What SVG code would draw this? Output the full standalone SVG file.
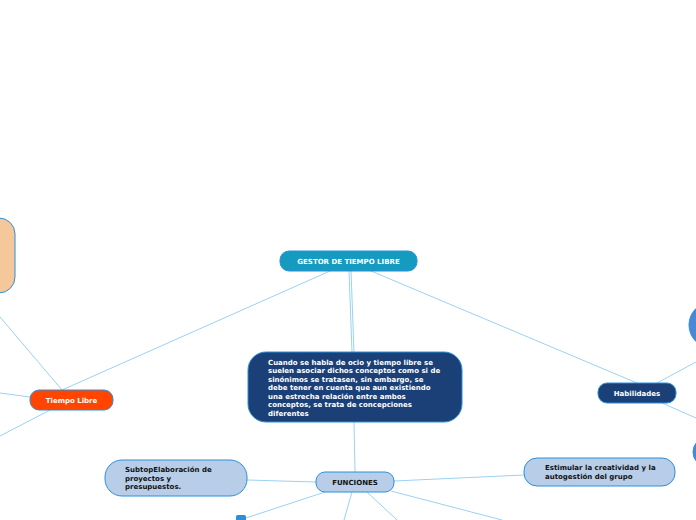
<svg xmlns="http://www.w3.org/2000/svg" width="696" height="520" viewBox="0 0 696 520">
<style>
.c{stroke:#9ad2f2;stroke-width:1;fill:none}
.n{stroke:#2b90d9;stroke-width:1}
.t{font-family:"DejaVu Sans",Verdana,sans-serif;font-weight:bold;font-size:7px}
.w{fill:#ffffff}
.d{fill:#111111}
</style>
<rect width="696" height="520" fill="#ffffff"/>
<g id="connectors">
<line class="c" x1="330" y1="271" x2="62" y2="390"/>
<line class="c" x1="349" y1="271" x2="352" y2="352"/>
<line class="c" x1="351" y1="271" x2="354" y2="352"/>
<line class="c" x1="354" y1="422" x2="355" y2="472"/>
<line class="c" x1="371" y1="271" x2="637" y2="383"/>
<line class="c" x1="657" y1="383" x2="696" y2="362"/>
<line class="c" x1="662" y1="403" x2="696" y2="418"/>
<line class="c" x1="62" y1="390" x2="0" y2="317"/>
<line class="c" x1="30" y1="397" x2="0" y2="393"/>
<line class="c" x1="50" y1="410" x2="0" y2="436"/>
<line class="c" x1="247" y1="480" x2="316" y2="482"/>
<line class="c" x1="394" y1="481" x2="524" y2="475"/>
<line class="c" x1="246" y1="518" x2="325" y2="492"/>
<line class="c" x1="352" y1="492" x2="344" y2="520"/>
<line class="c" x1="367" y1="492" x2="397" y2="520"/>
<line class="c" x1="391" y1="491" x2="502" y2="520"/>
</g>
<g id="peach"><rect class="n" x="-30" y="218" width="45" height="75" rx="16" fill="#f5c89c"/></g>
<g id="gestor"><rect class="n" x="280" y="251" width="137" height="20" rx="9" fill="#159ac0"/><text class="t w" x="348.5" y="263.5" text-anchor="middle" font-size="6.5">GESTOR DE TIEMPO LIBRE</text></g>
<g id="central"><rect class="n" x="248" y="352" width="214" height="70" rx="18" fill="#1b4077"/>
<text class="t w" font-size="6.8"><tspan x="268" y="364.5">Cuando se habla de ocio y tiempo libre se</tspan><tspan x="268" y="373">suelen asociar dichos conceptos como si de</tspan><tspan x="268" y="381.5">sinónimos se tratasen, sin embargo, se</tspan><tspan x="268" y="390">debe tener en cuenta que aun existiendo</tspan><tspan x="268" y="398.5">una estrecha relación entre ambos</tspan><tspan x="268" y="407">conceptos, se trata de concepciones</tspan><tspan x="268" y="415.5">diferentes</tspan></text></g>
<g id="tiempo"><rect class="n" x="30" y="390" width="83" height="20" rx="9" fill="#ff4500"/><text class="t w" x="71.5" y="402.5" text-anchor="middle">Tiempo Libre</text></g>
<g id="habilidades"><rect class="n" x="598" y="383" width="78" height="20" rx="9" fill="#1b4077"/><text class="t w" x="637" y="395.5" text-anchor="middle">Habilidades</text></g>
<g id="circle1"><circle class="n" cx="712" cy="325" r="23" fill="#4a88d4"/></g>
<g id="circle2"><circle class="n" cx="708" cy="452" r="15" fill="#4a88d4"/></g>
<g id="funciones"><rect class="n" x="316" y="472" width="78" height="20" rx="9" fill="#b8cde8"/><text class="t d" x="355" y="484.5" text-anchor="middle">FUNCIONES</text></g>
<g id="subtop"><rect class="n" x="105" y="460" width="142" height="36" rx="17" fill="#b8cde8"/><text class="t d" font-size="6.8"><tspan x="125" y="472">SubtopElaboración de</tspan><tspan x="125" y="480.5">proyectos y</tspan><tspan x="125" y="489">presupuestos.</tspan></text></g>
<g id="estimular"><rect class="n" x="524" y="458" width="151" height="28" rx="13" fill="#b8cde8"/><text class="t d" font-size="6.8"><tspan x="545" y="470">Estimular la creatividad y la</tspan><tspan x="545" y="478.5">autogestión del grupo</tspan></text></g>
<g id="square"><rect x="236" y="515" width="10" height="8" rx="1.5" fill="#2b90d9"/></g>
</svg>
